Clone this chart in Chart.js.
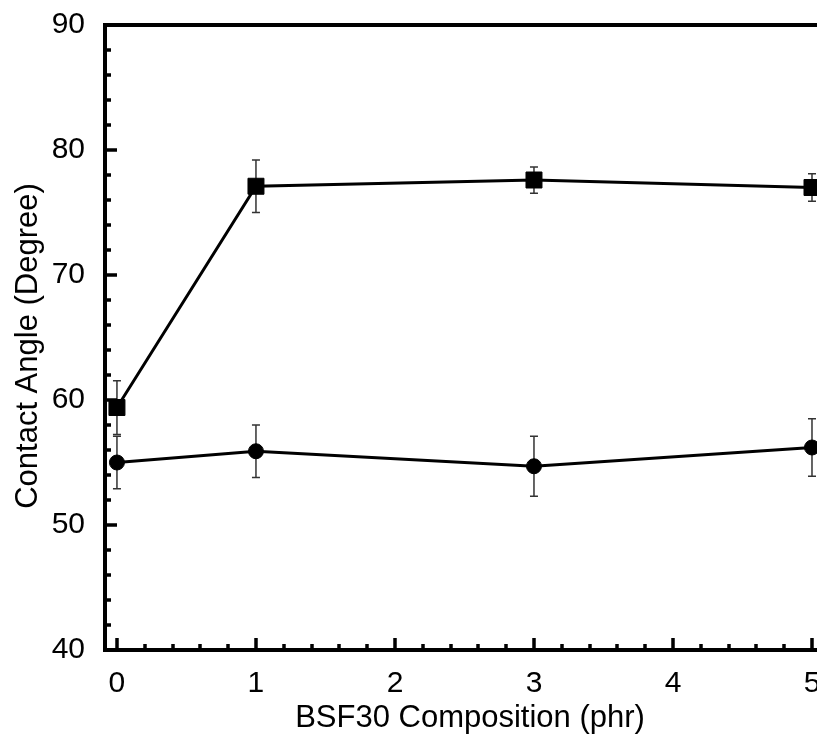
<!DOCTYPE html>
<html>
<head>
<meta charset="utf-8">
<script src="https://cdn.jsdelivr.net/npm/chart.js@4.4.0/dist/chart.umd.min.js"></script>
<style>
  html, body { margin: 0; padding: 0; background: #fff; overflow: hidden; }
</style>
</head>
<body>
<canvas id="chart" width="817" height="736"></canvas>
<script>
/* Contact angle vs BSF30 content — two series with error bars */

const compositions = [0, 1, 3, 5];
const squareAngle = [59.4, 77.1, 77.6, 77.0];
const squareErr = [2.15, 2.1, 1.05, 1.1];
const circleAngle = [55.0, 55.9, 54.7, 56.2];
const circleErr = [2.1, 2.1, 2.4, 2.3];

const xTicks = [0, 1, 2, 3, 4, 5];
const yTicks = [40, 50, 60, 70, 80, 90];
const xMinorStep = 0.2;
const yMinorStep = 2;

const X_TITLE = 'BSF30 Composition (phr)';
const Y_TITLE = 'Contact Angle (Degree)';
const FONT = 'Liberation Sans, Arial, sans-serif';

function toPoints(values) {
  return compositions.map((c, i) => ({ x: c, y: values[i] }));
}

// error bars under the markers, frame + inward ticks on top
const framePlugin = {
  id: 'frame',
  beforeDatasetsDraw(chart) {
    const { ctx, scales: { x, y } } = chart;
    ctx.save();
    ctx.strokeStyle = '#333';
    ctx.lineWidth = 1.5;
    [[squareAngle, squareErr], [circleAngle, circleErr]].forEach(([vals, errs]) => {
      vals.forEach((v, i) => {
        const px = x.getPixelForValue(compositions[i]);
        const top = y.getPixelForValue(v + errs[i]);
        const bot = y.getPixelForValue(v - errs[i]);
        ctx.beginPath();
        ctx.moveTo(px, top); ctx.lineTo(px, bot);
        ctx.moveTo(px - 4, top); ctx.lineTo(px + 4, top);
        ctx.moveTo(px - 4, bot); ctx.lineTo(px + 4, bot);
        ctx.stroke();
      });
    });
    ctx.restore();
  },
  afterDraw(chart) {
    const { ctx, chartArea: a, scales: { x, y } } = chart;
    ctx.save();
    ctx.strokeStyle = '#000';
    ctx.lineCap = 'square';

    // axis lines
    ctx.lineWidth = 4;
    ctx.beginPath();
    ctx.moveTo(a.right + 4, a.top);
    ctx.lineTo(a.left, a.top);
    ctx.lineTo(a.left, a.bottom);
    ctx.lineTo(a.right + 4, a.bottom);
    ctx.stroke();

    // ticks
    ctx.lineCap = 'butt';
    ctx.lineWidth = 3.5;
    ctx.beginPath();
    for (let v = yTicks[0]; v <= yTicks[yTicks.length - 1] + 1e-6; v += yMinorStep) {
      const py = Math.round(y.getPixelForValue(v));
      const major = yTicks.some(t => Math.abs(t - v) < 1e-6);
      ctx.moveTo(a.left, py);
      ctx.lineTo(a.left + (major ? 12 : 6), py);
    }
    for (let v = xTicks[0]; v <= xTicks[xTicks.length - 1] + 1e-6; v += xMinorStep) {
      const px = Math.round(x.getPixelForValue(v));
      const major = xTicks.some(t => Math.abs(t - v) < 1e-6);
      ctx.moveTo(px, a.bottom);
      ctx.lineTo(px, a.bottom - (major ? 12 : 6));
    }
    ctx.stroke();

    // axis titles
    ctx.fillStyle = '#000';
    ctx.font = '31px ' + FONT;
    ctx.textAlign = 'center';
    ctx.textBaseline = 'middle';
    ctx.fillText(X_TITLE, 470, 718);
    ctx.translate(28, 346);
    ctx.rotate(-Math.PI / 2);
    ctx.fillText(Y_TITLE, 0, 0);
    ctx.restore();
  }
};

const ctx = document.getElementById('chart');

new Chart(ctx, {
  type: 'scatter',
  data: {
    datasets: [
      {
        label: 'square',
        data: toPoints(squareAngle),
        showLine: true,
        borderColor: '#000',
        backgroundColor: '#000',
        borderWidth: 3,
        pointStyle: 'rect',
        pointRadius: 11.3,
        pointBorderWidth: 1,
        clip: false,
      },
      {
        label: 'circle',
        data: toPoints(circleAngle),
        showLine: true,
        borderColor: '#000',
        backgroundColor: '#000',
        borderWidth: 3,
        pointStyle: 'circle',
        pointRadius: 7.5,
        pointBorderWidth: 1,
        clip: false,
      }
    ]
  },
  options: {
    responsive: false,
    devicePixelRatio: 1,
    animation: false,
    layout: { autoPadding: false, padding: { top: 25, left: 0, right: 0, bottom: 0 } },
    plugins: {
      legend: { display: false },
      tooltip: { enabled: false },
    },
    scales: {
      x: {
        type: 'linear',
        min: -0.086,
        max: 5.036,
        grid: { display: false },
        border: { display: false },
        afterBuildTicks: (scale) => { scale.ticks = xTicks.map(v => ({ value: v })); },
        afterFit: (scale) => { scale.height = 86; scale.paddingLeft = 0; scale.paddingRight = 0; },
        ticks: {
          autoSkip: false,
          maxRotation: 0,
          padding: 8,
          color: '#000',
          font: { family: FONT, size: 30 },
        },
      },
      y: {
        min: 40,
        max: 90,
        grid: { display: false },
        border: { display: false },
        afterBuildTicks: (scale) => { scale.ticks = yTicks.map(v => ({ value: v })); },
        afterFit: (scale) => { scale.width = 105; scale.paddingTop = 0; scale.paddingBottom = 0; },
        ticks: {
          padding: 12,
          color: '#000',
          font: { family: FONT, size: 30 },
        },
      }
    }
  },
  plugins: [framePlugin]
});
</script>
</body>
</html>
